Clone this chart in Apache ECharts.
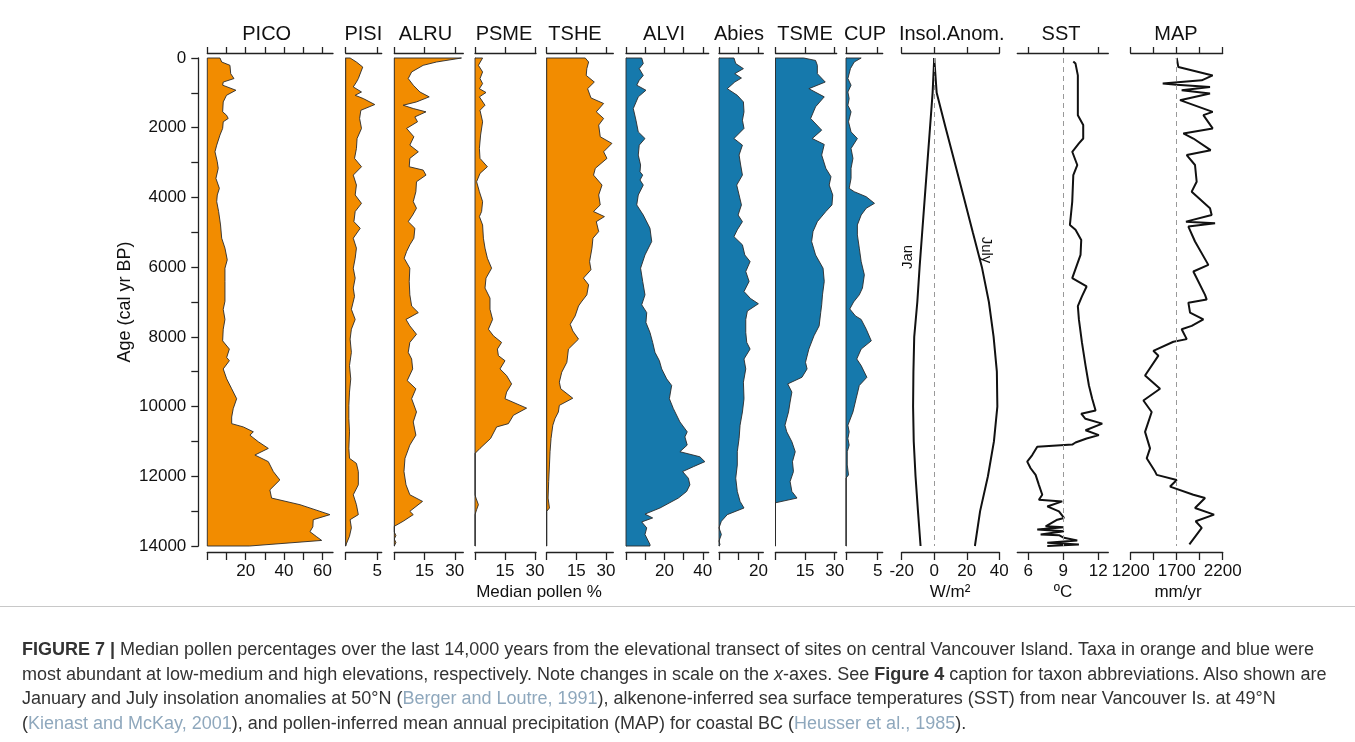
<!DOCTYPE html>
<html><head><meta charset="utf-8">
<script src="https://cdn.jsdelivr.net/npm/echarts@6/dist/echarts.min.js"></script>
<style>
html,body{margin:0;padding:0;background:#fff;}
#wrap{position:relative;width:1355px;height:742px;overflow:hidden;}
#chart{position:absolute;left:0;top:0;width:1355px;height:742px;}
#rule{position:absolute;left:0;top:606px;width:1355px;height:0;border-top:1px solid #c8c8c8;}
#cap{position:absolute;left:22px;top:637px;white-space:nowrap;font-family:'Liberation Sans',Arial,sans-serif;font-size:18px;line-height:24.7px;color:#333;}
#cap .c{color:#8fa8bd;}
</style></head>
<body>
<div id="wrap">
<div id="chart"></div>
<div id="rule"></div>
<div id="cap"><b>FIGURE 7 |</b> Median pollen percentages over the last 14,000 years from the elevational transect of sites on central Vancouver Island. Taxa in orange and blue were<br>most abundant at low-medium and high elevations, respectively. Note changes in scale on the <i>x</i>-axes. See <b>Figure 4</b> caption for taxon abbreviations. Also shown are<br>January and July insolation anomalies at 50°N (<span class="c">Berger and Loutre, 1991</span>), alkenone-inferred sea surface temperatures (SST) from near Vancouver Is. at 49°N<br>(<span class="c">Kienast and McKay, 2001</span>), and pollen-inferred mean annual precipitation (MAP) for coastal BC (<span class="c">Heusser et al., 1985</span>).</div>
</div>
<script>
// ---- data: [age (cal yr BP), value] ----
const PICO = [[0,6.6],[115,7.5],[210,11.8],[450,12.2],[590,13.9],[690,8.3],[780,8],[925,14.9],[1070,10],[1260,8.3],[1545,8],[1640,10],[1735,10.9],[1830,8.3],[2020,8],[2210,6.6],[2500,4.9],[2690,4],[2975,5.2],[3165,5.7],[3455,4.5],[3740,6.3],[3930,5.2],[4120,4.9],[4405,5.9],[4790,6.9],[5170,7.5],[5455,9.2],[5790,10.4],[6030,9.2],[6410,9.2],[6980,9.2],[7210,8.3],[7500,9.2],[7780,8.3],[8115,8],[8350,11.5],[8590,10.1],[8685,11.5],[8920,8.3],[9205,10.1],[9490,12.7],[9775,15.3],[10060,13.5],[10300,12.7],[10490,12.7],[10585,18.8],[10725,24],[10820,22.2],[11010,26.6],[11200,31.8],[11390,24.8],[11580,31.8],[11865,34.4],[12105,37.8],[12390,32.6],[12625,33.5],[12815,48.3],[13100,63.9],[13245,55.2],[13450,55],[13590,53.5],[13735,57],[13840,59.6],[14000,22]];
const PISI = [[0,0.7],[115,1.7],[260,2.7],[400,2.4],[590,2],[690,1.7],[830,1.2],[975,2.5],[1070,1.5],[1165,2.8],[1335,4.6],[1500,2.4],[1735,2.2],[2020,2.5],[2310,1.8],[2595,1.7],[2880,1.4],[3120,2.5],[3360,1.2],[3645,1.7],[3930,1.5],[4170,2.5],[4405,1.5],[4695,1.3],[4885,2.3],[5170,1.2],[5455,1.7],[5745,1.5],[6030,1.2],[6315,1.5],[6600,1.2],[6840,1.4],[7210,0.9],[7500,1.5],[7780,0.9],[8065,0.7],[8445,0.9],[8825,0.6],[9205,0.8],[9585,0.6],[9965,0.5],[10345,0.5],[10725,0.6],[11200,0.5],[11485,0.6],[11630,1.7],[11865,2],[12245,2],[12530,1.2],[12815,1.7],[13100,2],[13245,0.7],[13480,0.9],[13720,0.6],[13940,0.1],[14000,0]];
const ALRU = [[0,33.3],[115,20.9],[210,14.3],[400,8.6],[590,6.9],[780,9.4],[975,12.7],[1115,17.3],[1260,11],[1355,4.4],[1450,9.4],[1545,15.7],[1690,10.2],[1830,11.5],[2020,6.1],[2260,9.7],[2500,7.7],[2690,11.9],[2880,7.7],[3120,7.4],[3215,14.3],[3360,15.7],[3550,11],[3835,10.7],[4120,9.4],[4310,11],[4505,9.1],[4695,6.9],[4885,10.2],[5170,9.7],[5360,7.7],[5550,6.1],[5745,4.9],[6030,7.7],[6410,7.4],[6795,7.7],[7115,8.6],[7305,11.9],[7500,5.8],[7685,7.7],[7925,11],[8160,7.7],[8445,6.9],[8635,8.6],[8920,9.1],[9255,6.4],[9490,10.7],[9775,8.6],[10155,11],[10440,9.4],[10820,10.7],[11105,7.7],[11485,5.3],[11865,4.8],[12245,5.8],[12530,7.7],[12720,14],[13005,7.7],[13100,9.4],[13290,4.4],[13435,0],[13600,0],[13700,0.8],[13800,0],[13900,0.8],[14000,0]];
const PSME = [[0,3.8],[210,1.7],[400,3.8],[590,2.5],[735,3.8],[880,2.2],[990,5.5],[1115,2.2],[1355,5],[1500,2.5],[1830,3.8],[2210,2.8],[2595,2.2],[2880,2.5],[3120,6.2],[3310,2.5],[3550,0.8],[3835,2.2],[4120,3.8],[4405,3.3],[4550,2.2],[4790,3.8],[5170,4.2],[5455,5],[5745,6.2],[6030,8.3],[6315,5.5],[6600,5],[6890,7.5],[7210,7.5],[7500,8.8],[7780,6.7],[7970,9.2],[8160,13.3],[8350,11.2],[8540,11.7],[8685,15],[8920,12.5],[9110,15.8],[9350,18.3],[9585,15.8],[9775,15],[10045,25.8],[10250,19.2],[10490,16.7],[10585,10.8],[10915,7.8],[11200,2.5],[11345,0],[12530,0],[12625,0.5],[12815,1.7],[12960,0.8],[13100,0],[14000,0]];
const TSHE = [[0,19.5],[115,21.2],[305,20.3],[500,20],[690,24.1],[880,20.7],[1145,22.4],[1305,28.8],[1545,25.1],[1735,28.8],[1925,26.3],[2260,27.1],[2450,33],[2690,28.8],[2880,30.5],[3165,24.6],[3360,23.7],[3645,28],[3930,26.3],[4215,27.1],[4405,23.7],[4550,29.2],[4695,25.1],[4980,26.3],[5170,23.4],[5455,22.9],[5840,21.7],[6075,22.4],[6315,18.6],[6505,21.2],[6795,20.3],[7000,17.5],[7115,16.1],[7400,14.4],[7640,11.9],[7830,13.2],[8065,16.1],[8350,11],[8730,10.2],[9015,7.6],[9300,6.4],[9490,7.1],[9760,13.2],[9965,6.4],[10155,5.9],[10345,4.2],[10535,3.1],[10915,2.2],[11295,1.7],[11675,1.4],[12150,1],[12625,0.7],[12910,1.4],[13005,0],[14000,0]];
const ALVI = [[0,8.2],[160,9],[305,6.9],[500,9],[640,6.9],[780,5.6],[925,10.4],[1115,6.4],[1450,3.8],[1785,5.2],[2120,6.4],[2310,9.9],[2500,6.9],[2785,6.4],[3070,7.6],[3265,7.3],[3360,8.7],[3500,7.3],[3645,9],[3930,6.4],[4215,5.6],[4505,9],[4885,12.5],[5265,13.4],[5650,9.9],[6030,7.6],[6410,8.7],[6795,9.9],[7080,8.2],[7305,10.8],[7590,10.4],[7875,12.5],[8160,13.9],[8445,15.1],[8685,17.4],[8920,18.6],[9205,21.2],[9395,23.8],[9775,22.6],[10060,24.7],[10440,28.1],[10725,31.9],[10870,30.7],[11105,31.9],[11295,28.1],[11440,38.5],[11580,41.1],[11725,35.1],[11865,29.5],[12055,32.5],[12245,33.3],[12435,31.6],[12625,27.3],[12910,17.7],[13085,9.9],[13195,13.9],[13310,8.2],[13480,10.8],[13670,9.9],[13955,12.5],[14000,12.5]];
const ABIES = [[0,7.6],[160,8.5],[305,12.4],[450,8],[575,11.4],[690,8],[880,4.2],[1070,9.3],[1260,12.4],[1545,12.7],[1785,11.9],[2020,12.7],[2310,7.6],[2500,11.9],[2785,10.2],[3070,11],[3360,11.9],[3645,9],[3930,10.2],[4215,11.4],[4505,9.7],[4695,11.9],[4930,9.3],[5125,7.6],[5360,11.9],[5650,13.1],[5840,15.8],[6125,13.6],[6410,15.3],[6700,12.7],[6900,16],[7050,20],[7260,14.4],[7500,13.6],[7875,13.6],[8160,14.1],[8350,15.8],[8635,12.7],[8920,13.6],[9300,12.4],[9775,12.7],[10155,11.9],[10535,10.7],[10915,10.2],[11295,9.3],[11675,9.3],[12055,8.5],[12435,9.3],[12720,10.7],[12910,12.7],[13100,4.2],[13290,1.2],[13480,0],[13670,1.2],[13860,0],[13955,0.5],[14000,0]];
const TSME = [[0,14.3],[70,20.3],[210,21.2],[450,21.2],[690,25.2],[880,16.9],[1115,24.7],[1400,20.3],[1735,17.8],[2070,23.4],[2310,18.6],[2480,24.7],[2785,23.4],[3165,25.5],[3405,28.1],[3645,27.2],[3930,29],[4215,28.6],[4405,25.5],[4695,21.2],[4980,19],[5265,18.3],[5650,20.3],[6030,24.1],[6410,24.7],[6795,23.8],[7080,23.4],[7305,22.9],[7685,22.1],[7970,19.5],[8350,16.9],[8730,15.2],[8920,16],[9160,13.4],[9350,6.2],[9585,8.3],[9870,7.4],[10155,6.6],[10535,4.8],[10725,5.7],[11010,8.3],[11295,10],[11580,8.6],[11865,9.1],[12150,7.4],[12435,8.3],[12625,10.9],[12760,0],[14000,0]];
const CUP = [[0,2.4],[115,1.3],[305,0.7],[590,0.3],[780,0.8],[975,0.3],[1165,0.5],[1355,0.3],[1545,0.8],[1830,0.4],[2120,0.8],[2310,1.8],[2595,0.8],[2880,1.1],[3165,0.8],[3455,0.8],[3740,0.5],[3835,1.3],[3980,3.2],[4170,4.5],[4310,3.2],[4505,2.4],[4790,1.8],[5075,1.8],[5455,2.1],[5840,2.4],[6220,2.9],[6600,2.6],[6795,2.1],[7000,1.2],[7200,0.6],[7400,1.5],[7500,2.4],[7780,3.2],[8115,4],[8350,2.4],[8635,1.7],[8825,2.4],[9160,3.3],[9395,2.1],[9775,1.6],[10155,1.1],[10535,0.3],[10725,0.5],[10915,0.3],[11105,0.5],[11295,0.2],[11675,0.2],[11960,0.4],[12055,0],[14000,0]];
const INSOL_JAN = [[0,0],[1000,-1],[2000,-2.6],[3000,-4.2],[4000,-5.8],[5000,-7.4],[6000,-9],[7000,-10.4],[8000,-12.3],[9000,-12.8],[10000,-13],[11000,-12.6],[12000,-11.5],[13000,-10],[14000,-8.4]];
const INSOL_JUL = [[0,0],[1000,1.5],[2000,7],[3000,12.6],[4000,18.2],[5000,23.7],[6000,29.3],[7000,33.6],[8000,36.5],[9000,38.5],[10000,38.8],[11000,36.7],[12000,33],[13000,28.2],[14000,25]];
const SST = [[100,9.86],[160,10.05],[500,10.25],[1640,10.25],[1925,10.71],[2310,10.71],[2450,10.34],[2690,9.77],[3070,10.2],[3360,9.86],[4120,9.77],[4790,9.57],[4930,10.05],[5220,10.54],[5650,10.48],[6315,9.77],[6555,11.0],[6840,10.6],[7120,10.25],[7500,10.34],[8160,10.6],[8825,10.91],[9395,11.2],[9775,11.48],[10110,11.77],[10205,10.54],[10350,10.9],[10490,12.34],[10680,10.91],[10820,12.05],[10915,11.0],[11030,10.05],[11090,9.77],[11155,6.77],[11390,6.34],[11580,5.91],[11770,6.2],[11960,6.63],[12245,6.91],[12530,7.2],[12675,6.91],[12720,8.91],[12865,7.63],[13005,8.63],[13195,9.06],[13245,8.49],[13435,7.49],[13465,9.06],[13530,6.77],[13580,9.06],[13670,7.06],[13690,8.63],[13765,9.06],[13840,10.2],[13910,7.63],[13960,10.34],[14000,7.63]];
const MAP = [[0,1700],[260,1718],[500,2091],[640,1972],[735,1548],[765,1700],[830,2062],[925,1754],[1020,2062],[1210,1736],[1545,2091],[1640,1990],[2020,2091],[2165,1772],[2310,1881],[2645,2069],[2785,1809],[3070,1899],[3550,1917],[3835,1863],[4310,2062],[4505,2080],[4695,1801],[4740,2117],[4835,1827],[5265,1899],[5935,2044],[6125,1881],[6795,2008],[6930,2026],[7020,1827],[7305,1845],[7500,1990],[7685,1863],[7780,1754],[8065,1809],[8140,1664],[8400,1446],[8540,1501],[9110,1356],[9490,1519],[9825,1338],[10155,1428],[10725,1356],[11200,1410],[11485,1374],[11865,1465],[11960,1483],[12105,1700],[12295,1628],[12530,1881],[12625,2008],[12910,1899],[13100,2106],[13290,1906],[13480,1972],[13955,1838]];

// ---- tick label arrays ----
const TICKS = {
  PICO:[0,10,20,30,40,50,60], PISI:[0,5], ALRU:[0,15,30], PSME:[0,15,30], TSHE:[0,15,30],
  ALVI:[0,10,20,30,40], Abies:[0,10,20], TSME:[0,15,30], CUP:[0,5],
  Insol:[-20,0,20,40], SST:[6,9,12], MAP:[1200,1450,1700,1950,2200]
};
const LABELS = {
  PICO:[20,40,60], PISI:[5], ALRU:[15,30], PSME:[15,30], TSHE:[15,30],
  ALVI:[20,40], Abies:[20], TSME:[15,30], CUP:[5],
  Insol:[-20,0,20,40], SST:[6,9,12], MAP:[1200,1700,2200]
};

const ORANGE = '#F28C00', BLUE = '#1679AC';
const FONT = "'Liberation Sans', Arial, Helvetica, sans-serif";

// layout (pixels)
const panels = [
  {key:'PICO', title:'PICO', tx:266.7, data:PICO, color:ORANGE, l:207.3, r:333, min:0, max:65.5},
  {key:'PISI', title:'PISI', tx:363.3, data:PISI, color:ORANGE, l:345.7, r:381.7, min:0, max:5.7},
  {key:'ALRU', title:'ALRU', tx:425.5, data:ALRU, color:ORANGE, l:394.3, r:463.3, min:0, max:34.2},
  {key:'PSME', title:'PSME', tx:504, data:PSME, color:ORANGE, l:475, r:536, min:0, max:30.5},
  {key:'TSHE', title:'TSHE', tx:575, data:TSHE, color:ORANGE, l:546.7, r:613.3, min:0, max:33.7},
  {key:'ALVI', title:'ALVI', tx:664, data:ALVI, color:BLUE, l:626, r:708.7, min:0, max:43.1},
  {key:'Abies', title:'Abies', tx:739, data:ABIES, color:BLUE, l:719, r:763.3, min:0, max:22.5},
  {key:'TSME', title:'TSME', tx:805, data:TSME, color:BLUE, l:775.5, r:836.7, min:0, max:31},
  {key:'CUP', title:'CUP', tx:865, data:CUP, color:BLUE, l:846, r:882.7, min:0, max:5.8},
  {key:'Insol', title:'Insol.Anom.', tx:951.7, l:901.7, r:999.3, min:-20, max:40},
  {key:'SST', title:'SST', tx:1061, l:1017.3, r:1108.3, min:5.06, max:12.86},
  {key:'MAP', title:'MAP', tx:1176, l:1130.7, r:1222.7, min:1200, max:2200}
];
const TOP = 58, H = 488;

const grids = [], xAxes = [], yAxes = [], series = [];
panels.forEach((p, i) => {
  grids.push({left:p.l, top:TOP, width:p.r - p.l, height:H});
  ['top','bottom'].forEach(pos => {
    xAxes.push({
      type:'value', gridIndex:i, position:pos, min:p.min, max:p.max,
      offset: pos === 'top' ? 5 : 6,
      axisLine:{show:true, onZero:false, lineStyle:{color:'#222', width:1.3}},
      axisTick:{show:true, length: pos === 'top' ? 6 : 8, customValues:TICKS[p.key], lineStyle:{color:'#222', width:1.3}},
      axisLabel:{show: pos === 'bottom', customValues:LABELS[p.key], margin:11, color:'#111', fontSize:17, fontFamily:FONT,
        formatter: v => String(v)},
      splitLine:{show:false}
    });
  });
  const isPollen = !!p.data;
  const y = {type:'value', gridIndex:i, min:0, max:14000, inverse:true, splitLine:{show:false},
    axisLine:{show:isPollen, onZero:false, lineStyle:{color:'#777', width:1}},
    axisTick:{show:false}, axisLabel:{show:false}};
  if (i === 0) {
    Object.assign(y, {interval:1000, offset:9,
      axisLine:{show:true, onZero:false, lineStyle:{color:'#222', width:1.3}},
      axisTick:{show:true, length:7, lineStyle:{color:'#222', width:1.3}},
      axisLabel:{show:true, margin:12, color:'#111', fontSize:17, fontFamily:FONT,
        formatter: v => (v % 2000 === 0 ? String(v) : '')}});
  }
  yAxes.push(y);
  const xi = 2 * i + 1;
  if (isPollen) {
    const d = p.data;
    series.push({
      type:'custom', xAxisIndex:xi, yAxisIndex:i, clip:false, silent:true,
      data:[[0,0]],
      renderItem: (params, api) => {
        const pts = [api.coord([0, d[0][0]])];
        d.forEach(q => pts.push(api.coord([q[1], q[0]])));
        pts.push(api.coord([0, d[d.length - 1][0]]));
        return {type:'polygon', shape:{points:pts}, style:{fill:p.color, stroke:'#2a2a2a', lineWidth:0.9}};
      }
    });
  }
});

const lineS = (xi, yi, data, ref) => {
  const s = {type:'line', xAxisIndex:xi, yAxisIndex:yi, data:data.map(q => [q[1], q[0]]),
    showSymbol:false, symbol:'none', silent:true, lineStyle:{color:'#111', width:2}};
  if (ref !== undefined) s.markLine = {silent:true, symbol:'none', label:{show:false},
    lineStyle:{type:[5,4], color:'#999', width:1}, data:[{xAxis:ref}]};
  return s;
};
series.push(lineS(19, 9, INSOL_JAN, 0));
series.push(lineS(19, 9, INSOL_JUL));
series.push(lineS(21, 10, SST, 9));
series.push(lineS(23, 11, MAP, 1700));

const txt = (x, y, text, size, extra) => Object.assign({type:'text', x, y, silent:true,
  style:{text, fontSize:size, fontFamily:FONT, fill:'#111', align:'center', verticalAlign:'middle'}}, extra || {});
const graphic = panels.map(p => txt(p.tx, 34, p.title, 20));
graphic.push(txt(539, 592, 'Median pollen %', 17));
graphic.push(txt(950, 592, 'W/m²', 17));
graphic.push(txt(1063, 592, 'ºC', 17));
graphic.push(txt(1178, 592, 'mm/yr', 17));
graphic.push(txt(125, 302, 'Age (cal yr BP)', 18, {rotation:Math.PI / 2}));
graphic.push(txt(908, 257, 'Jan', 15, {rotation:Math.PI / 2}));
graphic.push(txt(986, 250, 'July', 15, {rotation:-Math.PI / 2}));

const chart = echarts.init(document.getElementById('chart'), null, {renderer:'canvas'});
chart.setOption({animation:false, grid:grids, xAxis:xAxes, yAxis:yAxes, series, graphic});
</script>
</body></html>
